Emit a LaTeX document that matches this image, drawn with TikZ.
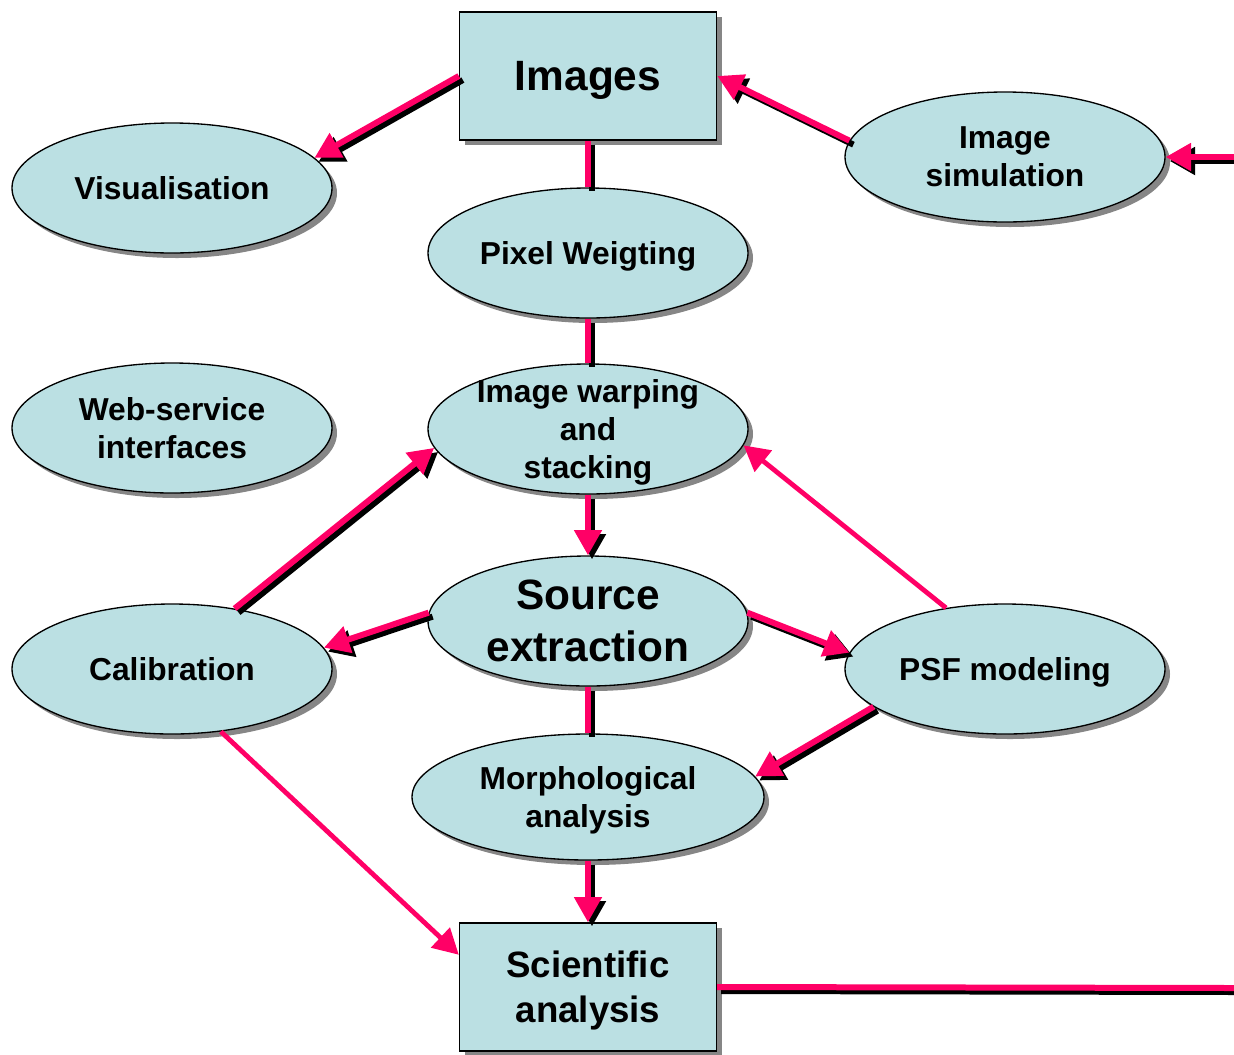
\documentclass[tikz,border=0pt]{standalone}
\usepackage{fontspec}
\setmainfont{Liberation Sans}
\usepackage{tikz}
\usetikzlibrary{shapes.geometric,arrows.meta,shadows}
\definecolor{boxblue}{HTML}{BBE0E3}
\definecolor{linkpink}{HTML}{FF0066}
\definecolor{shade}{HTML}{868686}
\tikzstyle{stage} = [ellipse, draw, line width=1pt, fill=boxblue, minimum width=240pt, minimum height=97.5pt, inner sep=0pt, text depth=0pt, align=center, font=\fontsize{23.8}{28.5}\selectfont\bfseries, drop shadow={shadow xshift=3.75pt, shadow yshift=-3.75pt, fill=shade, opacity=1}]
\tikzstyle{store} = [rectangle, draw, line width=1pt, fill=boxblue, minimum width=192.75pt, minimum height=96pt, inner sep=0pt, text depth=0pt, align=center, drop shadow={shadow xshift=3.75pt, shadow yshift=-3.75pt, fill=shade, opacity=1}]
\tikzstyle{link} = [draw=linkpink, line width=4.5pt, preaction={draw=black, line width=4.5pt, transform canvas={xshift=3pt, yshift=-3pt}}]
\tikzstyle{flow} = [link, -{Triangle[length=19pt, width=20pt]}]
\tikzstyle{thinflow} = [draw=linkpink, line width=3.6pt, -{Triangle[length=19pt, width=20pt]}]

\begin{document}
\begin{tikzpicture}[x=0.75pt, y=-0.75pt]
		\useasboundingbox (0,0) rectangle (1234,1054);
		% Place nodes
		\node [store, font=\fontsize{31.8}{38}\selectfont\bfseries] (images) at (588,76) {Images};
		\node [stage] (vis) at (172,188) {Visualisation};
		\node [stage] (imsim) at (1005,157) {Image\\simulation};
		\node [stage] (pixel) at (588,253) {Pixel Weigting};
		\node [stage] (web) at (172,428) {Web-service\\interfaces};
		\node [stage, inner ysep=-6pt] (warp) at (588,429) {Image warping\\and\\stacking};
		\node [stage, inner ysep=-6pt, font=\fontsize{31.8}{39}\selectfont\bfseries] (src) at (588,621) {Source\\extraction};
		\node [stage] (calib) at (172,669) {Calibration};
		\node [stage] (psf) at (1005,669) {PSF modeling};
		\node [stage, minimum width=264pt, minimum height=94.5pt] (morph) at (588,797) {Morphological\\analysis};
		\node [store, font=\fontsize{27.5}{33.75}\selectfont\bfseries] (sci) at (588,987) {Scientific\\analysis};
		\coordinate (loopin) at (1234,157);
		\coordinate (loopout) at (1234,988);

		% Draw edges
		\path [link] (images) -- (pixel);
		\path [link] (pixel) -- (warp);
		\path [flow] (warp) -- (src);
		\path [link] (src) -- (morph);
		\path [flow] (morph) -- (sci);

		\path [flow] (images.west) -- (vis.12);
		\path [flow] (imsim.174) -- (images.east);
		\path [flow] (loopin) -- (imsim.east);
		\path [link] (sci.east) -- (loopout);

		\path [flow] (calib.44) -- (warp.187);
		\path [flow] (src.177) -- (calib.8);
		\path [flow] (src.3) -- (psf.174);
		\path [thinflow] (psf.134) -- (warp.-6);
		\path [flow] (psf.196) -- (morph.7);
		\path [thinflow] (calib.-52) -- (sci.166);
	\end{tikzpicture}
\end{document}
